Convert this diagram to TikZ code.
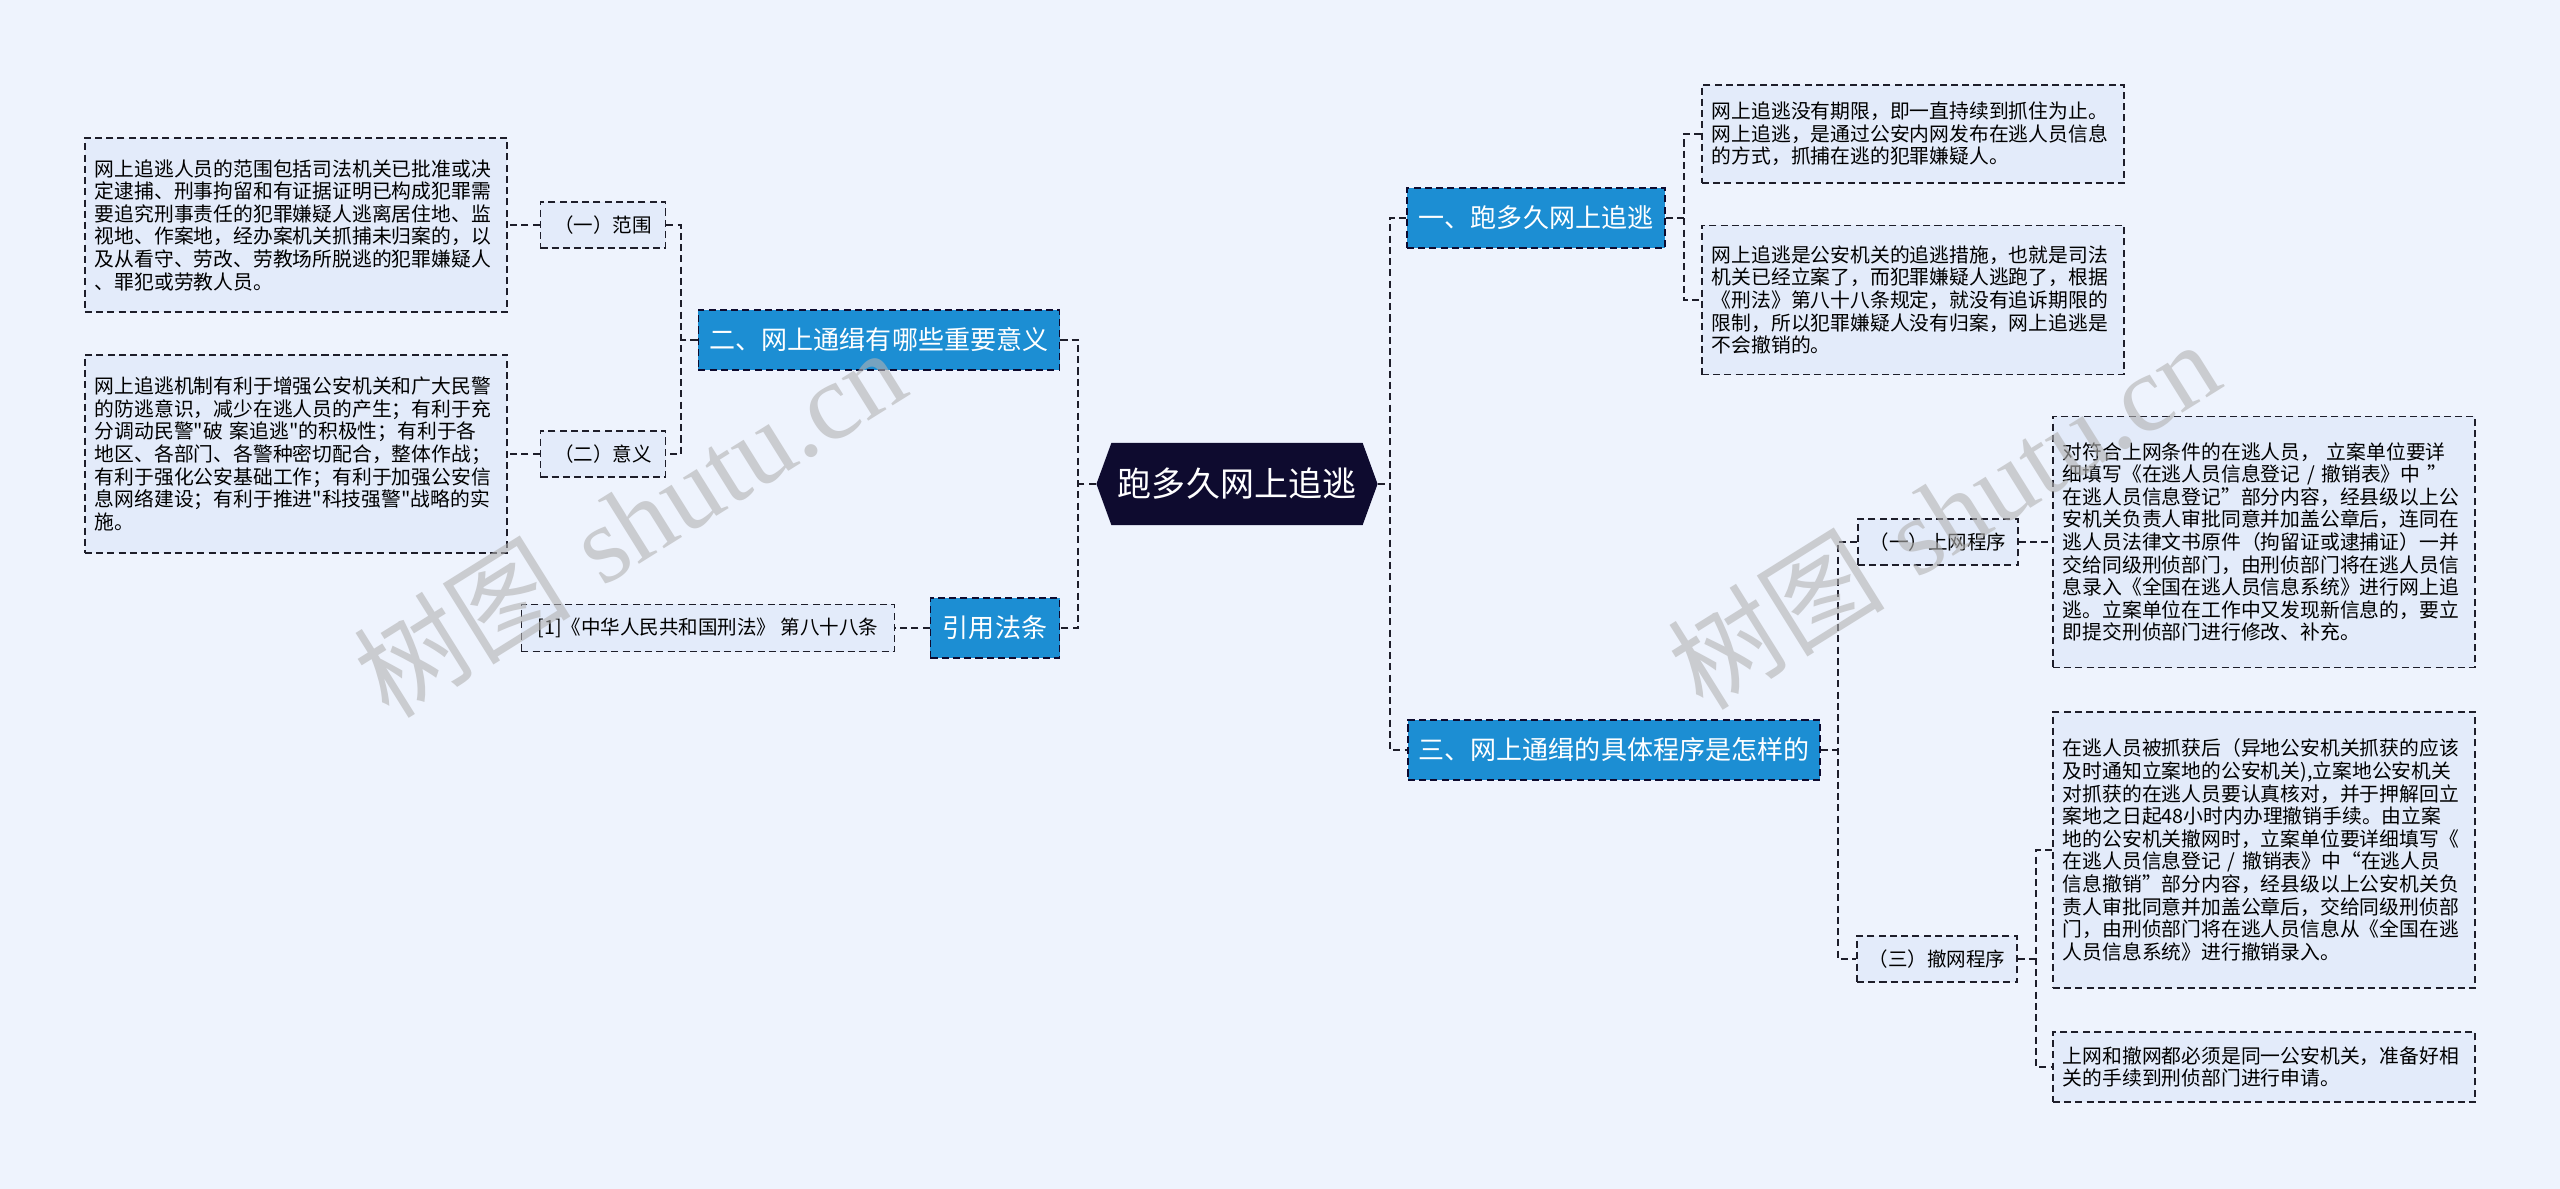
\documentclass[tikz,border=0pt]{standalone}
\usepackage{fontspec}
\newfontfamily\cjkfont{Noto Sans CJK SC}
\newfontfamily\wmfont{Liberation Serif}
\usetikzlibrary{shapes.symbols}

\definecolor{bgblue}{HTML}{EEF3FD}
\definecolor{boxfill}{HTML}{E3EBFA}
\definecolor{topicblue}{HTML}{1C8ED3}
\definecolor{rootnavy}{HTML}{0E0B2F}
\definecolor{dashink}{HTML}{1E1E2A}

\tikzset{
  link/.style={draw=dashink, line width=0.5pt, dash pattern=on 2pt off 1.2pt},
  textbox/.style={link, fill=boxfill, align=left, text width=4.02cm,
    inner xsep=0.1cm, inner ysep=0pt, font=\cjkfont\fontsize{5.63pt}{6.43pt}\selectfont},
  topic/.style={draw=rootnavy, fill=topicblue, text=white, line width=0.5pt,
    dash pattern=on 2pt off 1.2pt, minimum height=0.6cm, inner xsep=0pt,
    font=\cjkfont\fontsize{7.4pt}{8pt}\selectfont},
  subtopic/.style={link, fill=boxfill, minimum height=0.46cm, inner xsep=0pt,
    font=\cjkfont\fontsize{5.55pt}{6pt}\selectfont},
  rootnode/.style={signal, signal to=west and east, signal pointer angle=140,
    fill=rootnavy, text=white, minimum height=0.82cm, minimum width=2.81cm,
    inner xsep=0pt, font=\cjkfont\fontsize{9.67pt}{10pt}\selectfont},
  watermark/.style={text=gray!60, opacity=0.6, rotate=32,
    font=\fontsize{31pt}{31pt}\selectfont}
}

\begin{document}
\begin{tikzpicture}[x=0.01cm, y=-0.01cm]
  \fill[bgblue] (0,0) rectangle (2560,1189);
  \useasboundingbox (0,0) rectangle (2560,1189);

  % centre et branches principales
  \node[rootnode] (root) at (1237,484) {跑多久网上追逃};
  \node[topic, minimum width=2.58cm] (n1) at (1536,218) {一、跑多久网上追逃};
  \node[topic, minimum width=3.61cm] (n2) at (879,340) {二、网上通缉有哪些重要意义};
  \node[topic, minimum width=4.12cm] (n3) at (1614,750) {三、网上通缉的具体程序是怎样的};
  \node[topic, minimum width=1.29cm] (law) at (995,628) {引用法条};

  % cote gauche
  \node[subtopic, minimum width=1.25cm] (s1) at (603,225) {（一）范围};
  \node[subtopic, minimum width=1.25cm] (s2) at (603,454) {（二）意义};
  \node[subtopic, minimum width=3.73cm, minimum height=0.47cm] (lawref) at (708,628)
    {[1]《中华人民共和国刑法》 第八十八条};
  \node[textbox, minimum height=1.74cm] (d1) at (296,225)
    {网上追逃人员的范围包括司法机关已批准或决\\
     定逮捕、刑事拘留和有证据证明已构成犯罪需\\
     要追究刑事责任的犯罪嫌疑人逃离居住地、监\\
     视地、作案地，经办案机关抓捕未归案的，以\\
     及从看守、劳改、劳教场所脱逃的犯罪嫌疑人\\
     、罪犯或劳教人员。};
  \node[textbox, minimum height=1.98cm] (d2) at (296,454)
    {网上追逃机制有利于增强公安机关和广大民警\\
     的防逃意识，减少在逃人员的产生；有利于充\\
     分调动民警"破~案追逃"的积极性；有利于各\\
     地区、各部门、各警种密切配合，整体作战；\\
     有利于强化公安基础工作；有利于加强公安信\\
     息网络建设；有利于推进"科技强警"战略的实\\
     施。};

  % cote droit
  \node[textbox, minimum height=0.98cm] (a1) at (1913,134)
    {网上追逃没有期限，即一直持续到抓住为止。\\
     网上追逃，是通过公安内网发布在逃人员信息\\
     的方式，抓捕在逃的犯罪嫌疑人。};
  \node[textbox, minimum height=1.49cm] (a2) at (1913,300)
    {网上追逃是公安机关的追逃措施，也就是司法\\
     机关已经立案了，而犯罪嫌疑人逃跑了，根据\\
     《刑法》第八十八条规定，就没有追诉期限的\\
     限制，所以犯罪嫌疑人没有归案，网上追逃是\\
     不会撤销的。};
  \node[subtopic, minimum width=1.6cm] (p1) at (1938,542) {（一）上网程序};
  \node[subtopic, minimum width=1.6cm] (p2) at (1937,959) {（三）撤网程序};
  \node[textbox, minimum height=2.51cm] (c1) at (2264,542)
    {对符合上网条件的在逃人员，~立案单位要详\\
     细填写《在逃人员信息登记 / 撤销表》中 ”\\
     在逃人员信息登记”部分内容，经县级以上公\\
     安机关负责人审批同意并加盖公章后，连同在\\
     逃人员法律文书原件（拘留证或逮捕证）一并\\
     交给同级刑侦部门，由刑侦部门将在逃人员信\\
     息录入《全国在逃人员信息系统》进行网上追\\
     逃。立案单位在工作中又发现新信息的，要立\\
     即提交刑侦部门进行修改、补充。};
  \node[textbox, minimum height=2.76cm] (c2) at (2264,850)
    {在逃人员被抓获后（异地公安机关抓获的应该\\
     及时通知立案地的公安机关),立案地公安机关\\
     对抓获的在逃人员要认真核对，并于押解回立\\
     案地之日起48小时内办理撤销手续。由立案\\
     地的公安机关撤网时，立案单位要详细填写《\\
     在逃人员信息登记 / 撤销表》中“在逃人员\\
     信息撤销”部分内容，经县级以上公安机关负\\
     责人审批同意并加盖公章后，交给同级刑侦部\\
     门，由刑侦部门将在逃人员信息从《全国在逃\\
     人员信息系统》进行撤销录入。};
  \node[textbox, minimum height=0.70cm] (c3) at (2264,1067)
    {上网和撤网都必须是同一公安机关，准备好相\\
     关的手续到刑侦部门进行申请。};

  % points de jonction
  \coordinate (lj) at (1078,484);
  \coordinate (rj) at (1390,484);
  \coordinate (j1) at (1684,218);
  \coordinate (j2) at (681,340);
  \coordinate (j3) at (1838,750);
  \coordinate (j4) at (2036,959);

  % liaisons
  \draw[link] (root.west) -- (lj);
  \draw[link] (n2.east) -- (n2.east -| lj) -- (law.east -| lj) -- (law.east);
  \draw[link] (root.east) -- (rj);
  \draw[link] (n1.west) -- (n1.west -| rj) -- (n3.west -| rj) -- (n3.west);

  \draw[link] (n2.west) -- (j2);
  \draw[link] (s1.east) -- (s1.east -| j2) -- (s2.east -| j2) -- (s2.east);
  \draw[link] (s1.west) -- (d1.east);
  \draw[link] (s2.west) -- (d2.east);
  \draw[link] (law.west) -- (lawref.east);

  \draw[link] (n1.east) -- (j1);
  \draw[link] (a1.west) -- (a1.west -| j1) -- (a2.west -| j1) -- (a2.west);

  \draw[link] (n3.east) -- (j3);
  \draw[link] (p1.west) -- (p1.west -| j3) -- (p2.west -| j3) -- (p2.west);
  \draw[link] (p1.east) -- (c1.west);
  \draw[link] (p2.east) -- (j4);
  \draw[link] (c2.west) -- (c2.west -| j4) -- (c3.west -| j4) -- (c3.west);

  % filigrane
  \node[watermark] (wm1) at (629,522) {{\cjkfont 树图} {\wmfont shutu.cn}};
  \node[watermark] (wm2) at (1943,514) {{\cjkfont 树图} {\wmfont shutu.cn}};
\end{tikzpicture}
\end{document}
